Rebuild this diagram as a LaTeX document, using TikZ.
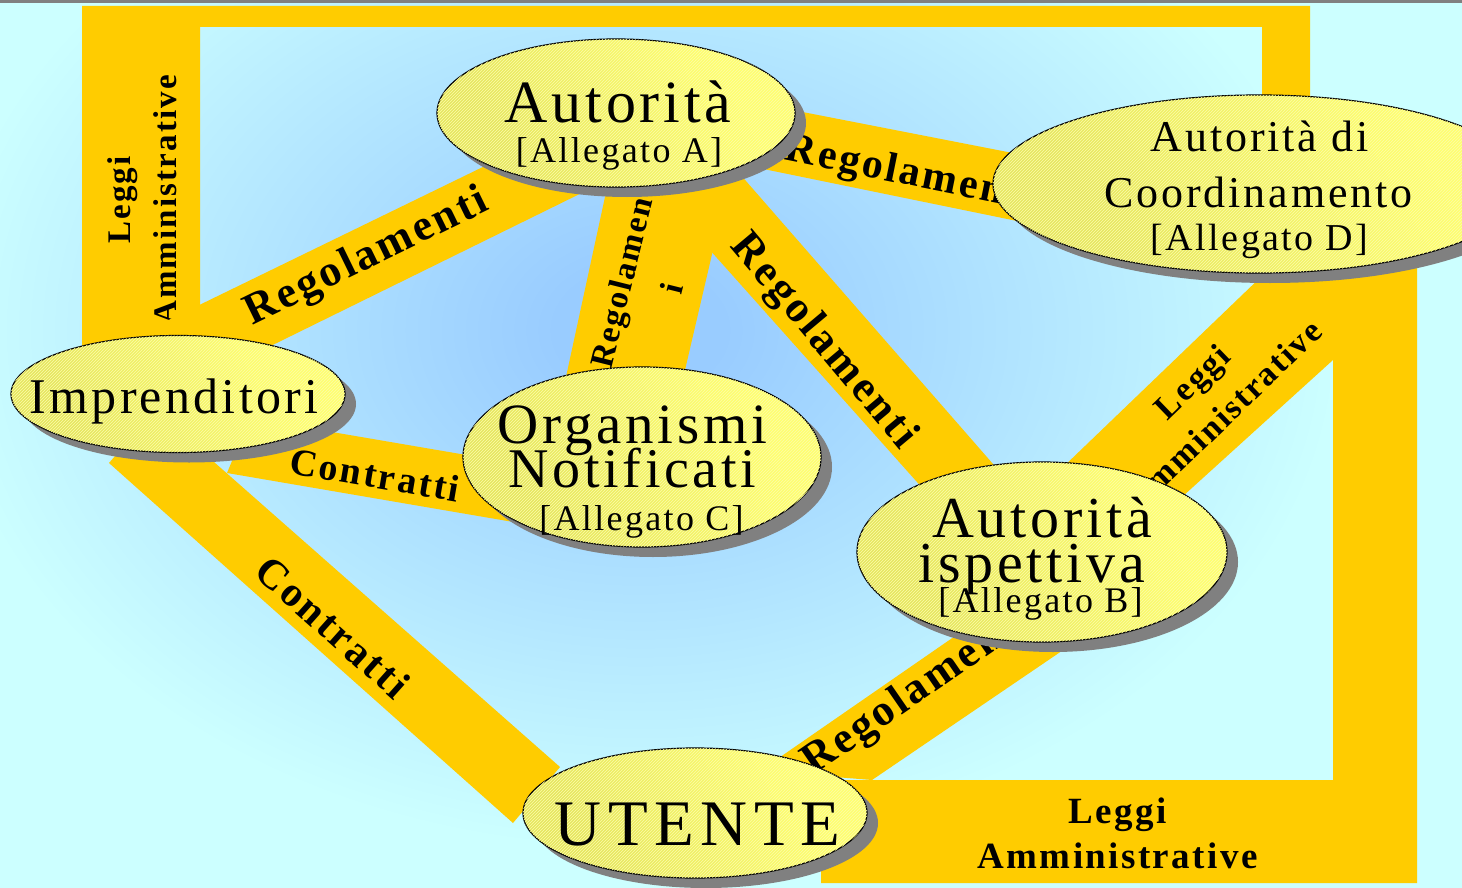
\documentclass[tikz,border=0pt]{standalone}
\usepackage{fontspec}
\newfontfamily\lsfont{Liberation Serif}[LetterSpace=6.5]
\usetikzlibrary{shapes.geometric,shadows,patterns}
\newcommand\fsz[2]{\fontsize{#1}{#2}\selectfont}
\definecolor{bandc}{RGB}{255,204,0}
\definecolor{bgin}{RGB}{153,204,255}
\definecolor{bgout}{RGB}{204,255,255}
\definecolor{shdc}{RGB}{128,128,128}
\definecolor{ella}{RGB}{230,230,96}
\definecolor{ellb}{RGB}{255,255,112}
\definecolor{hatchc}{RGB}{252,252,170}
\pgfdeclareradialshading{bgrad}{\pgfpoint{0bp}{0bp}}{color(0bp)=(bgin); color(3bp)=(bgin); color(25bp)=(bgout); color(50bp)=(bgout)}
\pgfdeclarehorizontalshading{ellshade}{100bp}{color(0bp)=(ella); color(30bp)=(ella); color(70bp)=(ellb); color(100bp)=(ellb)}
\begin{document}
\begin{tikzpicture}[x=1pt,y=-1pt,
  band/.style={fill=bandc},
  ell/.style={ellipse, draw=black, line width=1.2pt, inner sep=0pt,
    shade, shading=ellshade, shading angle=30,
    drop shadow={shadow xshift=11pt, shadow yshift=-10pt, fill=shdc, opacity=1},
    postaction={pattern=north east lines, pattern color=hatchc}},
  etxt/.style={inner sep=0pt, anchor=base},
  btxt/.style={inner sep=0pt, align=center}]
\useasboundingbox (0,0) rectangle (1462,888);
% background
\fill[bgout] (0,0) rectangle (1462,888);
\begin{scope}
  \clip (0,0) rectangle (1462,888);
  \shade[shading=bgrad] (-60,-190) rectangle (1340,850);
\end{scope}
\fill[shdc] (0,0) rectangle (1462,3);
% frame top-left: Leggi Amministrative
\fill[band] (82,6) -- (1310,6) -- (1310,120) -- (1262,120) -- (1262,27) -- (200,27) -- (200,360) -- (82,360) -- cycle;
\node[btxt, rotate=90, font=\lsfont\bfseries\fsz{33}{46}] (lleft) at (142,200) {Leggi\\Amministrative};
% Regolamenti Imprenditori - Autorita A
\fill[band] (150,329) -- (600,110) -- (600,184) -- (230,366) -- cycle;
\node[btxt, rotate=26, font=\lsfont\bfseries\fsz{44}{44}] (rb) at (367,258) {Regolamenti};
% Regolamenti Autorita A - Coordinamento
\fill[band] (700,92) -- (1100,170) -- (1100,238) -- (700,156) -- cycle;
\node[btxt, anchor=base, rotate=-11.5, font=\lsfont\bfseries\fsz{42}{42}] (rc) at (908,185) {Regolamenti};
% Regolamenti Autorita A - Organismi
\fill[band] (613,160) -- (734,160) -- (678,400) -- (561,400) -- cycle;
\node[btxt, rotate=76, font=\lsfont\bfseries\fsz{33}{50}] (rd) at (647,282) {Regolament\\i};
% Regolamenti Autorita A - ispettiva
\fill[band] (634,165) -- (732,165) -- (1000,472) -- (950,519) -- cycle;
\node[btxt, rotate=-50, font=\lsfont\bfseries\fsz{44}{44}] (re) at (823,342) {Regolamenti};
% Contratti Imprenditori - Organismi
\fill[band] (250,418) -- (560,471) -- (560,530) -- (227,473) -- cycle;
\node[btxt, rotate=-9.7, font=\lsfont\bfseries\fsz{38}{38}] (cf) at (375,475) {Contratti};
% Contratti Imprenditori - UTENTE
\fill[band] (109,463) -- (155,410) -- (560,767) -- (513,823) -- cycle;
\node[btxt, rotate=-41.7, font=\lsfont\bfseries\fsz{42}{42}] (cg) at (333,627) {Contratti};
% frame bottom-right: Leggi Amministrative
\fill[band] (1290,249) -- (1417,249) -- (1417,883) -- (821,883) -- (821,780) -- (1333,780) -- (1333,360) -- (1150,526) -- (1060,470) -- cycle;
\node[btxt, rotate=44, font=\lsfont\bfseries\fsz{34}{46}] (ldiag) at (1208,398) {Leggi\\Amministrative};
\node[etxt, font=\lsfont\bfseries\fsz{37}{37}] (lbot1) at (1117.5,823) {Leggi};
\node[etxt, font=\lsfont\bfseries\fsz{37}{37}] (lbot2) at (1117.5,868) {Amministrative};
% Regolamenti ispettiva - UTENTE
\fill[band] (760,771) -- (1000,605) -- (1100,625) -- (872,780) -- cycle;
\node[btxt, rotate=34.6, font=\lsfont\bfseries\fsz{44}{44}] (rh) at (917,692) {Regolamenti};
% ellipses
\node[ell, minimum width=358pt, minimum height=148pt] (autA) at (616,113) {};
\node[etxt, font=\lsfont\fsz{60}{60}] (autA1) at (618,123) {Autorità};
\node[etxt, font=\lsfont\fsz{36}{36}] (autA2) at (619,162) {[Allegato A]};
\node[ell, minimum width=532pt, minimum height=178pt] (coord) at (1259,184) {};
\node[etxt, font=\lsfont\fsz{44}{44}] (coord1) at (1259.5,152) {Autorità di};
\node[etxt, font=\lsfont\fsz{44}{44}] (coord2) at (1258.5,207) {Coordinamento};
\node[etxt, font=\lsfont\fsz{38}{38}] (coord3) at (1259.5,250) {[Allegato D]};
\node[ell, minimum width=334pt, minimum height=117pt] (imp) at (178,394) {};
\node[etxt, font=\lsfont\fsz{50}{50}] (imp1) at (174,413) {Imprenditori};
\node[ell, minimum width=358pt, minimum height=180pt] (org) at (642,457) {};
\node[etxt, font=\lsfont\fsz{57}{57}] (org1) at (632.5,443) {Organismi};
\node[etxt, font=\lsfont\fsz{56}{56}] (org2) at (632.5,487) {Notificati};
\node[etxt, font=\lsfont\fsz{36}{36}] (org3) at (641.5,530) {[Allegato C]};
\node[ell, minimum width=370pt, minimum height=180pt] (isp) at (1042,552) {};
\node[etxt, font=\lsfont\fsz{58}{58}] (isp1) at (1042,537) {Autorità};
\node[etxt, font=\lsfont\fsz{58}{58}] (isp2) at (1031.5,582) {ispettiva};
\node[etxt, font=\lsfont\fsz{36}{36}] (isp3) at (1040.5,612) {[Allegato B]};
\node[ell, minimum width=344pt, minimum height=130pt] (ute) at (695,813) {};
\node[etxt, font=\lsfont\fsz{65}{65}\addfontfeatures{LetterSpace=10}] (ute1) at (697.5,845) {UTENTE};
\end{tikzpicture}
\end{document}
